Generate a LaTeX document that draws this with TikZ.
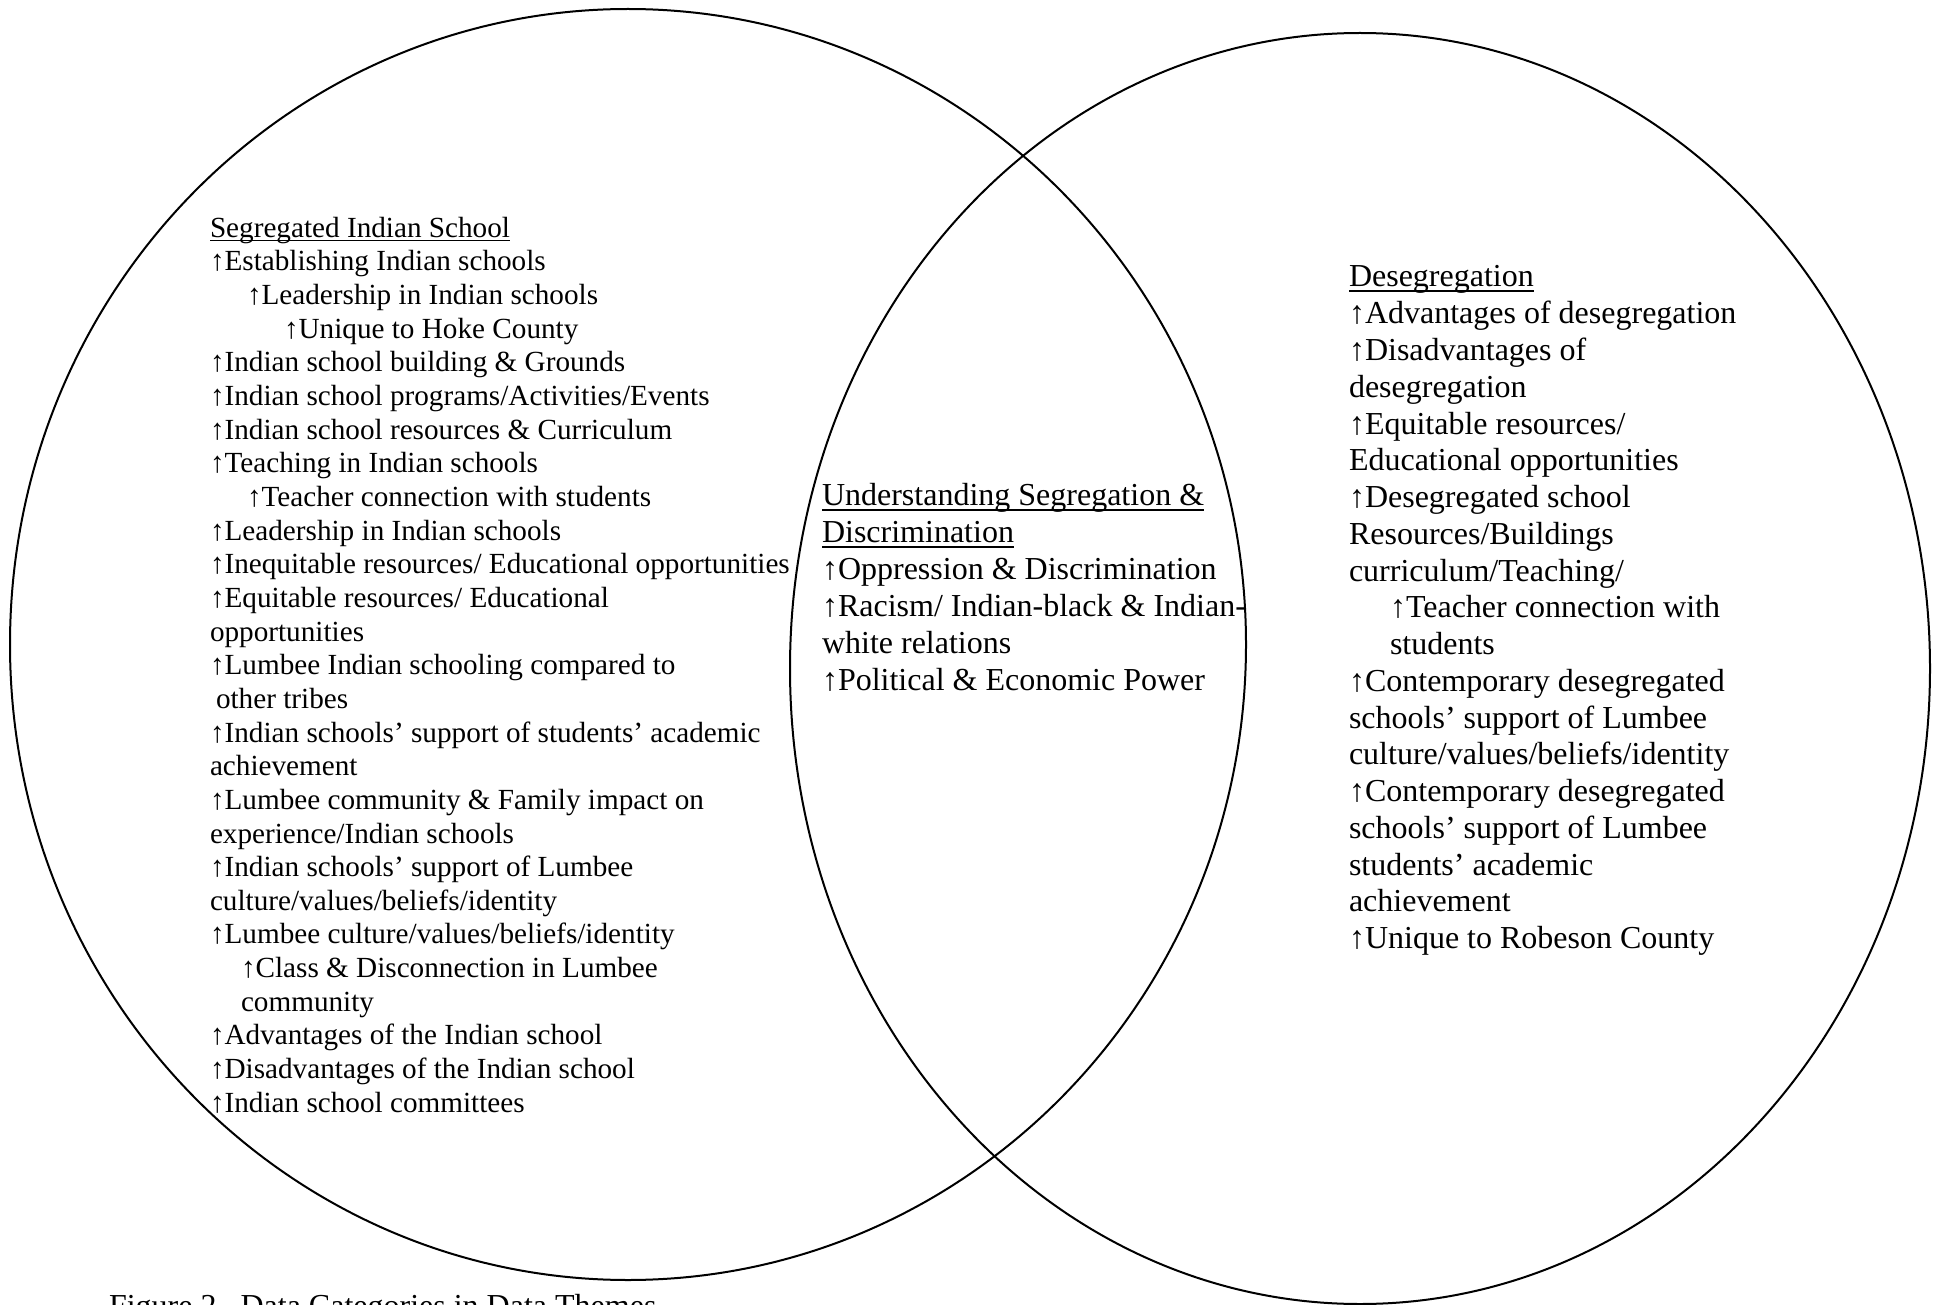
\documentclass[tikz,border=0pt]{standalone}
\usepackage{fontspec}
\setmainfont{Liberation Serif}
\tikzset{
  x=0.5pt,y=-0.5pt,
  venn/.style={line width=1pt,draw=black},
  lft/.style={anchor=base west,inner sep=0pt,outer sep=0pt,font=\fontsize{14.6pt}{16.8pt}\selectfont},
  mid/.style={anchor=base west,inner sep=0pt,outer sep=0pt,font=\fontsize{16pt}{18.5pt}\selectfont},
  rgt/.style={anchor=base west,inner sep=0pt,outer sep=0pt,font=\fontsize{16pt}{18.4pt}\selectfont},
  ul/.style={line width=0.8pt}
}
\newcommand{\Lline}[3]{\node[lft] (l#1) at (#2,{237.3+(#1-1)*33.65}) {#3};}
\newcommand{\Mline}[3]{\node[mid] (m#1) at (#2,{505+(#1-1)*37}) {#3};}
\newcommand{\Rline}[3]{\node[rgt] (r#1) at (#2,{287+(#1-1)*36.75}) {#3};}
\begin{document}
\begin{tikzpicture}
\useasboundingbox (0,0) rectangle (1939,1305);
\clip (0,0) rectangle (1939,1305);
% circles
\draw[venn] (628,644.5) ellipse [x radius=309pt, y radius=317.75pt];
\draw[venn] (1360,668.5) ellipse [x radius=285pt, y radius=317.75pt];
% left column
\Lline{1}{210}{Segregated Indian School}
\Lline{2}{210}{↑Establishing Indian schools}
\Lline{3}{247}{↑Leadership in Indian schools}
\Lline{4}{284}{↑Unique to Hoke County}
\Lline{5}{210}{↑Indian school building \& Grounds}
\Lline{6}{210}{↑Indian school programs/Activities/Events}
\Lline{7}{210}{↑Indian school resources \& Curriculum}
\Lline{8}{210}{↑Teaching in Indian schools}
\Lline{9}{247}{↑Teacher connection with students}
\Lline{10}{210}{↑Leadership in Indian schools}
\Lline{11}{210}{↑Inequitable resources/ Educational opportunities}
\Lline{12}{210}{↑Equitable resources/ Educational}
\Lline{13}{210}{opportunities}
\Lline{14}{210}{↑Lumbee Indian schooling compared to}
\Lline{15}{216}{other tribes}
\Lline{16}{210}{↑Indian schools’ support of students’ academic}
\Lline{17}{210}{achievement}
\Lline{18}{210}{↑Lumbee community \& Family impact on}
\Lline{19}{210}{experience/Indian schools}
\Lline{20}{210}{↑Indian schools’ support of Lumbee}
\Lline{21}{210}{culture/values/beliefs/identity}
\Lline{22}{210}{↑Lumbee culture/values/beliefs/identity}
\Lline{23}{241}{↑Class \& Disconnection in Lumbee}
\Lline{24}{241}{community}
\Lline{25}{210}{↑Advantages of the Indian school}
\Lline{26}{210}{↑Disadvantages of the Indian school}
\Lline{27}{210}{↑Indian school committees}
\draw[ul] ([yshift=-1.7pt]l1.base west) -- ([yshift=-1.7pt]l1.base east);
% middle column
\Mline{1}{822}{Understanding Segregation \&}
\Mline{2}{822}{Discrimination}
\Mline{3}{822}{↑Oppression \& Discrimination}
\Mline{4}{822}{↑Racism/ Indian-black \& Indian-}
\Mline{5}{822}{white relations}
\Mline{6}{822}{↑Political \& Economic Power}
\draw[ul] ([yshift=-2.5pt]m1.base west) -- ([yshift=-2.5pt]m1.base east);
\draw[ul] ([yshift=-2.5pt]m2.base west) -- ([yshift=-2.5pt]m2.base east);
% right column
\Rline{1}{1349}{Desegregation}
\Rline{2}{1349}{↑Advantages of desegregation}
\Rline{3}{1349}{↑Disadvantages of}
\Rline{4}{1349}{desegregation}
\Rline{5}{1349}{↑Equitable resources/}
\Rline{6}{1349}{Educational opportunities}
\Rline{7}{1349}{↑Desegregated school}
\Rline{8}{1349}{Resources/Buildings}
\Rline{9}{1349}{curriculum/Teaching/}
\Rline{10}{1390}{↑Teacher connection with}
\Rline{11}{1390}{students}
\Rline{12}{1349}{↑Contemporary desegregated}
\Rline{13}{1349}{schools’ support of Lumbee}
\Rline{14}{1349}{culture/values/beliefs/identity}
\Rline{15}{1349}{↑Contemporary desegregated}
\Rline{16}{1349}{schools’ support of Lumbee}
\Rline{17}{1349}{students’ academic}
\Rline{18}{1349}{achievement}
\Rline{19}{1349}{↑Unique to Robeson County}
\draw[ul] ([yshift=-2pt]r1.base west) -- ([yshift=-2pt]r1.base east);
% caption (cut off at the bottom edge, as in the reference)
\node[mid] (cap) at (109,1316) {Figure 2.\ \ Data Categories in Data Themes};
\end{tikzpicture}
\end{document}
